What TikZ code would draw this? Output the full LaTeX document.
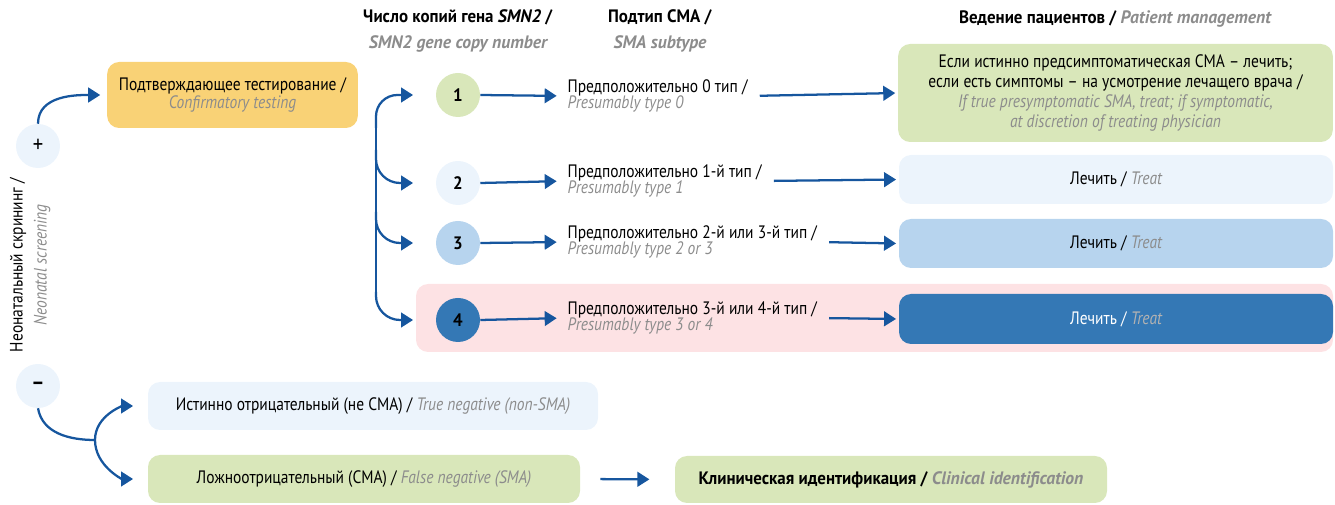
\documentclass[tikz,border=0pt]{standalone}
\usepackage{fontspec}
\setmainfont{PT Sans}[FakeStretch=0.86,BoldFeatures={FakeStretch=0.94},BoldItalicFeatures={FakeStretch=0.98}]
\usetikzlibrary{arrows.meta,positioning}

\definecolor{arrblue}{RGB}{22,86,158}
\definecolor{engray}{RGB}{140,140,140}
\definecolor{palebl}{RGB}{236,244,252}
\definecolor{midbl}{RGB}{183,212,238}
\definecolor{darkbl}{RGB}{52,120,181}
\definecolor{leaf}{RGB}{217,231,186}
\definecolor{amber}{RGB}{249,210,118}
\definecolor{pinkbg}{RGB}{253,226,228}

\newcommand\base{\fontsize{13.5pt}{15pt}\selectfont}
\newcommand\en[1]{{\color{engray}\itshape #1}}

\begin{document}
\begin{tikzpicture}[x=0.75pt,y=0.75pt,yscale=-1,xscale=1,font=\base,
  flow/.style={draw=arrblue,line width=1.7pt,-{Triangle[length=9pt,width=11pt]}},
  dot/.style={circle,minimum size=33pt,inner sep=0pt,font=\base\bfseries},
  box/.style={rounded corners=9pt,align=center,inner sep=2pt},
  note/.style={anchor=west,align=left,inner sep=1pt,font=\fontsize{13.5pt}{12.5pt}\selectfont}]
\useasboundingbox (0,0) rectangle (1335,505);

%Shape: pink band behind copy number 4
\fill[pinkbg,rounded corners=9pt] (416,284) rectangle (1333,352);

% Headers
\node[align=center] (hcopy) at (458,31) {\textbf{Число копий гена \textit{SMN2} /}\\[4pt]\textbf{\en{SMN2 gene copy number}}};
\node[align=center] (htype) at (660,31) {\textbf{Подтип СМА /}\\[4pt]\textbf{\en{SMA subtype}}};
\node (hcare) at (1115,19) {\textbf{Ведение пациентов / \en{Patient management}}};

% Screening
\node[dot,fill=palebl,font=\fontsize{18pt}{18pt}\selectfont] (plus) at (38,146) {+};
\node[dot,fill=palebl,font=\fontsize{16pt}{16pt}\selectfont\bfseries] (minus) at (38,386) {–};
\node[rotate=90,align=center,font=\fontsize{13.5pt}{18pt}\selectfont] (screen) at (30,265) {Неонатальный скрининг /\\\en{Neonatal screening}};

\node[box,fill=amber,minimum width=188pt,minimum height=49.5pt,font=\fontsize{13.5pt}{13.5pt}\selectfont] (confirm) at (232.5,95) {Подтверждающее тестирование /\\\en{Confirmatory testing}};

% Copy number circles
\node[dot,fill=leaf] (c1) at (458,95) {1};
\node[dot,fill=palebl] (c2) at (458,183) {2};
\node[dot,fill=midbl] (c3) at (458,243) {3};
\node[dot,fill=darkbl] (c4) at (458,320) {4};

% Subtype
\node[note] (s1) at (566,96) {Предположительно 0 тип /\\\en{Presumably type 0}};
\node[note] (s2) at (566,181) {Предположительно 1-й тип /\\\en{Presumably type 1}};
\node[note] (s3) at (566,242) {Предположительно 2-й или 3-й тип /\\\en{Presumably type 2 or 3}};
\node[note] (s4) at (566,318) {Предположительно 3-й или 4-й тип /\\\en{Presumably type 3 or 4}};

% Management
\node[box,fill=leaf,minimum width=326pt,minimum height=73.5pt,font=\fontsize{13.5pt}{14.8pt}\selectfont] (m1) at (1115.5,93) {Если истинно предсимптоматическая СМА – лечить;\\если есть симптомы – на усмотрение лечащего врача /\\\en{If true presymptomatic SMA, treat; if symptomatic,}\\\en{at discretion of treating physician}};
\node[box,fill=palebl,minimum width=325.5pt,minimum height=36.75pt] (m2) at (1116,179.5) {Лечить / \en{Treat}};
\node[box,fill=midbl,minimum width=325.5pt,minimum height=36.75pt] (m3) at (1116,243.5) {Лечить / \en{Treat}};
\node[box,fill=darkbl,minimum width=325.5pt,minimum height=37.5pt] (m4) at (1116,319) {\color{white}Лечить / {\color{black!30}\itshape Treat}};

% Negative results
\node[box,fill=palebl,minimum width=337.5pt,minimum height=36pt] (tneg) at (373,406) {Истинно отрицательный (не СМА) / \en{True negative (non-SMA)}};
\node[box,fill=leaf,minimum width=324pt,minimum height=36pt] (fneg) at (364,479) {Ложноотрицательный (СМА) / \en{False negative (SMA)}};
\node[box,fill=leaf,minimum width=324pt,minimum height=35.25pt] (clin) at (891,479.5) {\textbf{Клиническая идентификация / \en{Clinical identification}}};

% Connectors (y axis is flipped: out=-90 points up the page)
\draw[flow,shorten >=5pt] (plus.north) to[out=-90,in=180] (confirm.west);

\coordinate (fork) at (376,128);
\coordinate (forkend) at (376,292);
\draw[arrblue,line width=1.7pt] (fork) -- (forkend);
\draw[flow,shorten >=17pt,rounded corners=16pt] (fork) |- (c1.west);
\draw[flow,shorten >=17pt,rounded corners=18pt] (376,150) |- (c2.west);
\draw[flow,shorten >=17pt,rounded corners=18pt] (376,212) |- (c3.west);
\draw[flow,shorten >=17pt,rounded corners=18pt] (forkend) |- (c4.west);

\foreach \i in {1,...,4}{
  \draw[flow,shorten >=7pt] (c\i.east) -- (s\i.west);
  \draw[flow,shorten <=8pt,shorten >=2pt] (s\i.east) -- (m\i.west);
}

\coordinate (nfork) at (95,440);
\draw[arrblue,line width=1.7pt] (minus.south) to[out=80,in=180] (nfork);
\draw[flow,shorten >=11pt] (nfork) to[out=-90,in=180] (tneg.west);
\draw[flow,shorten >=11pt] (nfork) to[out=90,in=180] (fneg.west);
\draw[flow,shorten <=15pt,shorten >=19pt] (fneg.east) -- (clin.west);

\end{tikzpicture}
\end{document}
